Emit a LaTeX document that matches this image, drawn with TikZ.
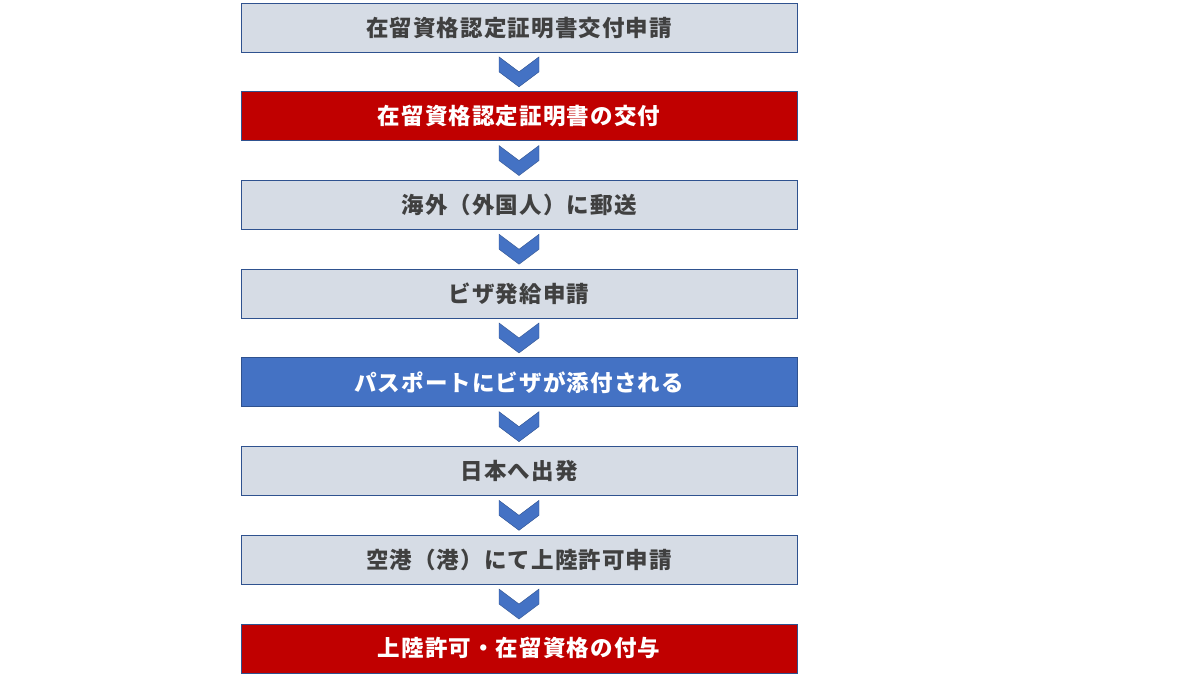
\documentclass[tikz,border=0pt]{standalone}
\usepackage{fontspec}
\newfontfamily\jpfont{Noto Sans CJK JP}[LetterSpace=5]
\usetikzlibrary{positioning, calc}

\definecolor{boxgray}{HTML}{D6DCE5}
\definecolor{boxred}{HTML}{C00000}
\definecolor{boxblue}{HTML}{4472C4}
\definecolor{boxline}{HTML}{2F528F}
\definecolor{textgray}{HTML}{404040}

\tikzset{
	stepbox/.style={draw=boxline, line width=0.8pt, minimum width=556pt,
		minimum height=49pt, inner sep=0pt,
		font=\jpfont\bfseries\fontsize{22.5}{24}\selectfont},
	graybox/.style={stepbox, fill=boxgray, text=textgray},
	redbox/.style={stepbox, fill=boxred, text=white},
	bluebox/.style={stepbox, fill=boxblue, text=white},
	chev/.style={fill=boxblue, draw=boxline, line width=0.4pt}
}

\begin{document}
\begin{tikzpicture}[x=1pt, y=1pt, node distance=38.9pt]
	\useasboundingbox (0, 0) rectangle (1203, -684);

	\node[graybox] (s1) at (519, -27.5) {在留資格認定証明書交付申請};
	\node[redbox, below=of s1] (s2) {在留資格認定証明書の交付};
	\node[graybox, below=of s2] (s3) {海外（外国人）に郵送};
	\node[graybox, below=of s3] (s4) {ビザ発給申請};
	\node[bluebox, below=of s4] (s5) {パスポートにビザが添付される};
	\node[graybox, below=of s5] (s6) {日本へ出発};
	\node[graybox, below=of s6] (s7) {空港（港）にて上陸許可申請};
	\node[redbox, below=of s7] (s8) {上陸許可・在留資格の付与};

	% chevrons between the steps
	\foreach \a/\b in {s1/s2, s2/s3, s3/s4, s4/s5, s5/s6, s6/s7, s7/s8}
		\filldraw[chev, shift={($(\a.south)!0.5!(\b.north)$)}]
		(-20, 15) -- (0, 0) -- (20, 15) -- (20, 0) -- (0, -15) -- (-20, 0) -- cycle;
\end{tikzpicture}
\end{document}
